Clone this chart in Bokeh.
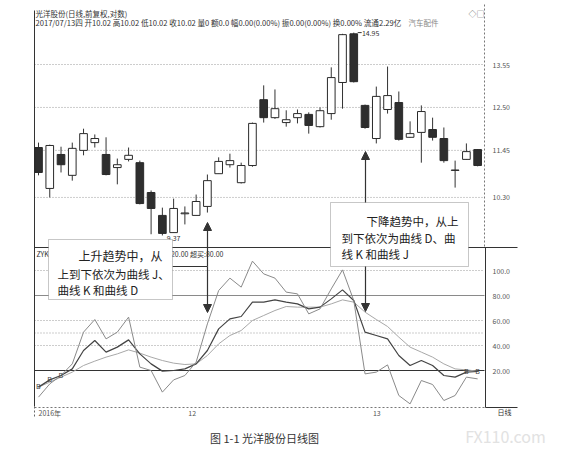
from bokeh.plotting import figure
from bokeh.models import Range1d, Label, BoxAnnotation, Arrow, NormalHead, ColumnDataSource
from bokeh.core.properties import value
from bokeh.embed import file_html
from bokeh.resources import INLINE

FONT = "Noto Sans CJK SC"

# ---------------- data ----------------
opens = [11.52, 10.52, 11.35, 10.84, 11.45, 11.64, 11.35, 11.03, 11.23, 11.15,
         10.42, 9.86, 9.44, 9.90, 9.86, 10.08, 10.88, 11.10, 10.66, 11.08,
         12.69, 12.25, 12.13, 12.25, 12.33, 12.03, 12.35, 13.11, 14.30, 12.55,
         11.74, 12.45, 12.62, 11.77, 11.89, 11.96, 11.74, 10.96, 11.23, 11.47]
closes = [10.91, 11.57, 11.10, 11.50, 11.86, 11.74, 10.86, 11.10, 11.33, 10.15,
          10.03, 9.42, 10.03, 9.92, 10.20, 10.71, 11.18, 11.20, 11.08, 12.11,
          12.25, 12.47, 12.20, 12.35, 12.06, 12.42, 13.23, 14.28, 13.13, 12.01,
          12.77, 12.79, 11.72, 11.86, 12.40, 11.77, 11.20, 10.97, 11.42, 11.08]
highs = [11.64, 11.59, 11.54, 11.64, 11.98, 11.84, 11.77, 11.25, 11.52, 11.20,
         10.47, 10.05, 10.27, 10.08, 10.37, 10.86, 11.28, 11.37, 11.15, 12.13,
         13.04, 12.94, 12.43, 12.45, 12.38, 12.50, 13.48, 14.30, 14.33, 12.57,
         13.01, 13.50, 12.89, 12.16, 12.55, 12.25, 12.01, 11.20, 11.62, 11.48]
lows = [10.84, 10.30, 10.91, 10.71, 11.33, 11.52, 10.84, 10.62, 11.18, 10.13,
        9.40, 9.37, 9.44, 9.64, 9.86, 9.93, 10.88, 11.03, 10.64, 11.05,
        12.13, 12.22, 12.03, 12.11, 11.86, 12.01, 12.20, 12.47, 13.11, 11.98,
        11.62, 12.35, 11.69, 11.76, 11.15, 11.69, 11.15, 10.54, 11.22, 11.06]

k_vals = [6.7, 12.5, 16, 21.3, 36, 44, 34.7, 38.7, 44.5, 33.3,
          25.3, 19.5, 20, 21.3, 25.3, 36, 53.3, 61.3, 63.2, 74.7,
          74.7, 76.5, 74.7, 73.3, 69.3, 70.7, 77.3, 84.5, 76, 50.7,
          48, 45.3, 32, 24, 28, 24, 16, 14.7, 18.7, 19.2]
d_vals = [6.7, 10.7, 14.7, 18.7, 24, 27.5, 30.7, 33.3, 36.5, 33.9,
          30.7, 28, 25.9, 24.8, 25.3, 32, 41.3, 48, 52, 60,
          64, 68, 71.2, 70.7, 70.7, 70.7, 73.3, 76.5, 74.7, 66.7,
          60.8, 55.2, 46.7, 38.7, 34.7, 30.7, 25.3, 21.3, 20.5, 19.5]
j_vals = [-1.3, 9.3, 16, 25.3, 50.7, 60.8, 45.3, 50.7, 62.7, 22.7,
          20, 2.7, 12.5, 16, 26.7, 57.3, 84, 93.9, 86.7, 107.5,
          97.3, 93.9, 82.7, 81.3, 65.3, 69.3, 85.3, 100.5, 76, 17.3,
          18.7, 24.5, 0, -6.7, 12, 8.8, -4, 0, 14.7, 13.3]

signal_idx = [0, 1, 2, 38, 39]
signal_text = ["B", "B", "B", "B", "B"]

price_ticks = [13.55, 12.50, 11.45, 10.30]
price_tick_labels = ["13.55", "12.50", "11.45", "10.30"]
kdj_ticks = [100, 80, 60, 40, 20]
kdj_tick_labels = ["100.0", "80.00", "60.00", "40.00", "20.00"]
kdj_dotted = [100, 60, 50, 40]

date_idx = [0, 13.3, 29.7]
date_labels = ["2016年", "12", "13"]

high_idx, high_label = 28, "14.95"
low_idx, low_label = 11, "9.37"

# ---------------- layout ----------------
W, H = 560, 456
PAGE = 0
X_FIRST, X_STEP = 38.0, 11.26
P_REF, P_REF_Y, P_SCALE = 13.55, 64.0, 40.9
K_ZERO_Y, K_SCALE = 395.0, 1.25

x_start = (PAGE - X_FIRST) / X_STEP
x_end = (PAGE + W - X_FIRST) / X_STEP
p_top = P_REF + (P_REF_Y - PAGE) / P_SCALE
p_bot = P_REF - (PAGE + H - P_REF_Y) / P_SCALE
k_top = (K_ZERO_Y - PAGE) / K_SCALE
k_bot = (K_ZERO_Y - PAGE - H) / K_SCALE


def fx(px):
    return (px - X_FIRST) / X_STEP


def fy(py):
    return P_REF - (py - P_REF_Y) / P_SCALE


p = figure(width=W, height=H, x_range=Range1d(x_start, x_end), y_range=Range1d(p_bot, p_top),
           output_backend="svg", toolbar_location=None, x_axis_location=None, y_axis_location=None,
           min_border=0, outline_line_color=None, background_fill_color="white",
           border_fill_color="white")
p.extra_y_ranges = {"kdj": Range1d(k_bot, k_top)}
p.grid.visible = False


def seg(x0, y0, x1, y1, color, width=1.0, dash="solid"):
    p.segment(x0=[fx(x0)], y0=[fy(y0)], x1=[fx(x1)], y1=[fy(y1)],
              line_color=color, line_width=width, line_dash=dash)


# grid lines
p.segment(x0=[fx(34)] * len(price_ticks), x1=[fx(484)] * len(price_ticks),
          y0=price_ticks, y1=price_ticks, line_color="#9a9a9a", line_dash="1 2", line_width=1)
p.segment(x0=[fx(34)] * len(kdj_dotted), x1=[fx(484)] * len(kdj_dotted),
          y0=kdj_dotted, y1=kdj_dotted, line_color="#9a9a9a", line_dash="1 2", line_width=1,
          y_range_name="kdj")
p.segment(x0=[fx(34)], x1=[fx(484)], y0=[80], y1=[80], line_color="#8a8a8a", line_width=1,
          y_range_name="kdj")
p.segment(x0=[fx(34)], x1=[fx(484)], y0=[20], y1=[20], line_color="#333333", line_width=1,
          y_range_name="kdj")

# frame lines
seg(34, 10, 34, 406, "#333333")
seg(34, 406, 34, 417, "#666666", dash="2 2")
seg(484, 4, 484, 247, "#777777", dash="2 2")
seg(485, 247, 485, 407, "#333333")
seg(34, 247, 517, 247, "#333333")
seg(34, 407, 485, 407, "#777777", dash="2 2")
seg(485, 407, 517, 407, "#333333")

# candles
up = [c >= o for o, c in zip(opens, closes)]
src = ColumnDataSource(dict(
    x=list(range(len(opens))),
    h=highs, l=lows,
    top=[max(o, c) for o, c in zip(opens, closes)],
    bottom=[min(o, c) for o, c in zip(opens, closes)],
    fill=["white" if u else "#2e2e2e" for u in up],
))
p.segment(x0="x", y0="h", x1="x", y1="l", source=src, line_color="#333333", line_width=1)
p.vbar(x="x", width=0.68, top="top", bottom="bottom", fill_color="fill",
       line_color="#2a2a2a", line_width=1, source=src)

# KDJ lines
xs = list(range(len(k_vals)))
p.line(xs, d_vals, y_range_name="kdj", line_color="#a8a8a8", line_width=1)
p.line(xs, k_vals, y_range_name="kdj", line_color="#444444", line_width=1.2)
p.line(xs, j_vals, y_range_name="kdj", line_color="#8a8a8a", line_width=1)
p.text(x=signal_idx, y=[k_vals[i] for i in signal_idx], text=signal_text, y_range_name="kdj",
       text_font=value("DejaVu Sans"), text_font_size="7px", text_color="#444444",
       text_align="center", text_baseline="middle")

# axis labels
p.text(x=[fx(492)] * len(price_ticks), y=price_ticks, text=price_tick_labels,
       text_font=value(FONT), text_font_size="7px", text_color="#555555", text_baseline="middle")
p.text(x=[fx(492)] * len(kdj_ticks), y=kdj_ticks, text=kdj_tick_labels, y_range_name="kdj",
       text_font=value(FONT), text_font_size="7px", text_color="#555555", text_baseline="middle")
p.text(x=date_idx, y=[fy(412)] * len(date_idx), text=date_labels,
       text_font=value(FONT), text_font_size="7px", text_color="#555555", text_baseline="middle")

# high / low marks
p.segment(x0=[high_idx + 0.35], y0=[highs[high_idx]], x1=[high_idx + 0.7], y1=[highs[high_idx]],
          line_color="#333333")
p.text(x=[high_idx + 0.72], y=[highs[high_idx]], text=[high_label], text_font=value(FONT),
       text_font_size="7px", text_color="#333333", text_baseline="middle")
p.text(x=[low_idx + 0.4], y=[lows[low_idx]], text=[low_label], text_font=value(FONT),
       text_font_size="7px", text_color="#333333", text_baseline="top")


def lab(px, py, text, size="7.5px", color="#333333", align="left"):
    p.add_layout(Label(x=fx(px), y=fy(py), text=text, text_font=FONT, text_font_size=size,
                       text_color=color, text_baseline="middle", text_align=align))


# header
lab(35, 13, "光洋股份(日线,前复权,对数)")
lab(35, 22, "2017/07/13四 开10.02 高10.02 低10.02 收10.02 量0 额0.0 幅0.00(0.00%) 振0.00(0.00%) 换0.00% 流通2.29亿",
    size="7.6px")
lab(408, 22, "汽车配件", color="#888888")
lab(468, 13, "◇□", size="8px", color="#666666")
lab(36, 253, "ZYKDJ(9,3,3) K:17.42 D:19.56 J:13.15 超卖:20.00 超买:80.00", size="7px")
lab(497, 411, "日线", size="7px")

# annotation boxes
p.add_layout(BoxAnnotation(left=fx(48), right=fx(172), top=fy(239), bottom=fy(299),
                           fill_color="white", fill_alpha=1, line_color="#444444", line_width=1))
p.add_layout(BoxAnnotation(left=fx(330), right=fx(468), top=fy(202), bottom=fy(266),
                           fill_color="white", fill_alpha=1, line_color="#444444", line_width=1))

lab(78, 255, "上升趋势中，从", size="12px", color="#222222")
lab(57, 273, "上到下依次为曲线 J、", size="11.5px", color="#222222")
lab(57, 289, "曲线 K 和曲线 D", size="11.5px", color="#222222")
lab(366, 220, "下降趋势中，从上", size="11.5px", color="#222222")
lab(341, 237, "到下依次为曲线 D、曲", size="11.5px", color="#222222")
lab(341, 253, "线 K 和曲线 J", size="11.5px", color="#222222")

# arrows
seg(172, 266, 207, 266, "#333333", 1.2)


def arrow(x0, y0, x1, y1):
    p.add_layout(Arrow(end=NormalHead(size=8, fill_color="#333333", line_color="#333333"),
                       x_start=fx(x0), y_start=fy(y0), x_end=fx(x1), y_end=fy(y1),
                       line_color="#333333", line_width=1.2))


arrow(207, 266, 207, 222)
arrow(207, 266, 207, 312)
arrow(365, 202, 365, 151)
arrow(365, 266, 365, 311)

# caption and watermark
lab(264, 437, "图 1-1 光洋股份日线图", size="11px", color="#333333", align="center")
lab(505, 435, "FX110.com", size="16px", color="#e2e2e2", align="center")

open("out.html", "w").write(file_html(p, INLINE))
